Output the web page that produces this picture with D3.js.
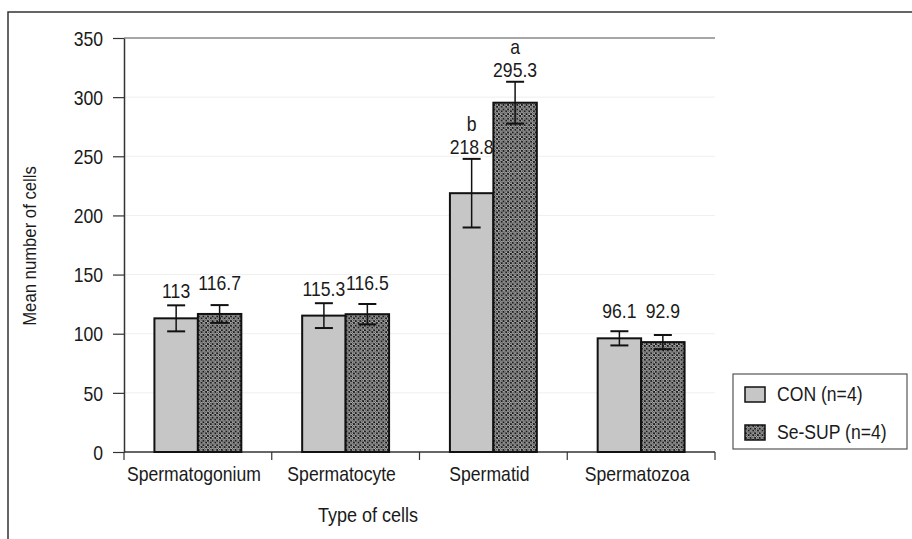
<!DOCTYPE html>
<html>
<head>
<meta charset="utf-8">
<script src="https://cdnjs.cloudflare.com/ajax/libs/d3/7.8.5/d3.min.js"></script>
<style>
  body { margin: 0; background: #fff; }
  svg text { font-family: "Liberation Sans", Arial, sans-serif; fill: #1a1a1a; }
</style>
</head>
<body>
<svg id="chart" width="912" height="539"></svg>
<script>
'use strict';

// data
var categories = ['Spermatogonium', 'Spermatocyte', 'Spermatid', 'Spermatozoa'];
var seriesNames = ['CON (n=4)', 'Se-SUP (n=4)'];
var conValues = [113, 115.3, 218.8, 96.1];
var supValues = [116.7, 116.5, 295.3, 92.9];
var conErrors = [11, 10.5, 29, 6];
var supErrors = [7.5, 8.6, 17.7, 6];
var conLetters = ['', '', 'b', ''];
var supLetters = ['', '', 'a', ''];
var yTicks = [0, 50, 100, 150, 200, 250, 300, 350];

var svg = d3.select('#chart');

var plotLeft = 124, plotRight = 715, plotTop = 38, plotBottom = 452;
var SX = 0.88; // the scanned font is a bit narrow

var x0 = d3.scaleBand().domain(categories).range([plotLeft, plotRight]).padding(0);
var x1 = d3.scaleBand().domain(seriesNames).range([0, x0.bandwidth()]).paddingInner(0).paddingOuter(0.7);
var y = d3.scaleLinear().domain([0, 350]).range([plotBottom, plotTop]);

// put a narrowed text at (x, y)
function narrowText(parent, x, y, str, size, anchor) {
  return parent.append('text')
    .attr('transform', 'translate(' + x + ',' + y + ') scale(' + SX + ',1)')
    .attr('text-anchor', anchor || 'middle')
    .style('font-size', size + 'px')
    .text(str);
}

// patterns
var defs = svg.append('defs');
var pat = defs.append('pattern')
  .attr('id', 'hatch')
  .attr('patternUnits', 'userSpaceOnUse')
  .attr('width', 4.6).attr('height', 4.6);
pat.append('rect').attr('width', 4.6).attr('height', 4.6).attr('fill', '#1a1a1a');
[[1.15, 1.15], [3.45, 3.45]].forEach(function (p) {
  pat.append('circle').attr('cx', p[0]).attr('cy', p[1]).attr('r', 1.1)
    .attr('fill', 'none').attr('stroke', '#e6e6e6').attr('stroke-width', 0.9);
});

var fills = ['#c6c6c6', 'url(#hatch)'];

// outer frame
svg.append('path')
  .attr('d', 'M8,539 L8,12 L912,12')
  .attr('fill', 'none').attr('stroke', '#333').attr('stroke-width', 1.5);

// gridlines
svg.append('g').selectAll('line')
  .data(yTicks.filter(function (d) { return d > 0; }))
  .enter().append('line')
  .attr('x1', plotLeft).attr('x2', plotRight)
  .attr('y1', function (d) { return y(d); })
  .attr('y2', function (d) { return y(d); })
  .attr('stroke', function (d) { return d === 350 ? '#8a8a8a' : '#efefef'; })
  .attr('stroke-width', function (d) { return d === 350 ? 1.5 : 1; });

// y axis
var yAxis = svg.append('g')
  .attr('transform', 'translate(' + plotLeft + ',0)')
  .call(d3.axisLeft(y).tickValues(yTicks).tickSize(11).tickPadding(10).tickSizeOuter(0));
yAxis.select('.domain').attr('stroke', '#333').attr('stroke-width', 1.5);
yAxis.selectAll('.tick line').attr('stroke', '#333').attr('stroke-width', 1.2);
yAxis.selectAll('text')
  .attr('x', -21 / SX)
  .attr('transform', 'scale(' + SX + ',1)')
  .attr('dy', '0.36em')
  .style('font-size', '20px').attr('fill', '#1a1a1a');

// x axis with ticks between the categories
var xAxis = svg.append('g')
  .attr('transform', 'translate(0,' + plotBottom + ')');
xAxis.append('line')
  .attr('x1', plotLeft).attr('x2', plotRight)
  .attr('stroke', '#333').attr('stroke-width', 1.5);
var bounds = categories.map(function (c) { return x0(c); }).concat([plotRight]);
xAxis.selectAll('.sep').data(bounds).enter().append('line')
  .attr('class', 'sep')
  .attr('x1', function (d) { return d; }).attr('x2', function (d) { return d; })
  .attr('y1', 0).attr('y2', 8)
  .attr('stroke', '#333').attr('stroke-width', 1.2);
categories.forEach(function (c) {
  narrowText(xAxis, x0(c) + x0.bandwidth() / 2 - 4, 29, c, 20);
});

// bars
var flat = [];
categories.forEach(function (c, i) {
  flat.push({ cat: c, s: seriesNames[0], v: conValues[i], e: conErrors[i], l: conLetters[i], k: 0 });
  flat.push({ cat: c, s: seriesNames[1], v: supValues[i], e: supErrors[i], l: supLetters[i], k: 1 });
});

var bw = x1.bandwidth();
var groups = svg.append('g').selectAll('g')
  .data(flat).enter().append('g')
  .attr('transform', function (d) { return 'translate(' + (x0(d.cat) + x1(d.s)) + ',0)'; });

groups.append('rect')
  .attr('x', 0)
  .attr('y', function (d) { return y(d.v); })
  .attr('width', bw)
  .attr('height', function (d) { return y(0) - y(d.v); })
  .attr('fill', function (d) { return fills[d.k]; })
  .attr('stroke', '#111').attr('stroke-width', 2);

// error bars
groups.append('line')
  .attr('x1', bw / 2).attr('x2', bw / 2)
  .attr('y1', function (d) { return y(d.v + d.e); })
  .attr('y2', function (d) { return y(d.v - d.e); })
  .attr('stroke', '#111').attr('stroke-width', 1.5);
groups.selectAll('.cap')
  .data(function (d) { return [d.v + d.e, d.v - d.e]; })
  .enter().append('line')
  .attr('class', 'cap')
  .attr('x1', bw / 2 - 9).attr('x2', bw / 2 + 9)
  .attr('y1', function (d) { return y(d); })
  .attr('y2', function (d) { return y(d); })
  .attr('stroke', '#111').attr('stroke-width', 2);

// value labels and significance letters
groups.each(function (d) {
  var g = d3.select(this);
  var base = Math.min(y(d.v) - 20 - (d.k ? 4 : 0), y(d.v + d.e) - 5);
  narrowText(g, bw / 2, base, d.v, 20);
  if (d.l) narrowText(g, bw / 2, base - 23, d.l, 20);
});

// axis titles
narrowText(svg, 0, 0, 'Mean number of cells', 19)
  .attr('transform', 'translate(36,246) rotate(-90) scale(' + SX + ',1)');
narrowText(svg, 368, 522, 'Type of cells', 20.5);

// legend
var legend = svg.append('g');
legend.append('rect')
  .attr('x', 733).attr('y', 374).attr('width', 174).attr('height', 75)
  .attr('fill', '#fff').attr('stroke', '#555').attr('stroke-width', 1.2);
var items = legend.selectAll('.item').data(seriesNames).enter().append('g')
  .attr('class', 'item')
  .attr('transform', function (d, i) { return 'translate(745,' + (387 + i * 38) + ')'; });
items.append('rect')
  .attr('width', 20).attr('height', 15)
  .attr('fill', function (d, i) { return fills[i]; })
  .attr('stroke', '#111').attr('stroke-width', 1.5);
items.each(function (d) {
  narrowText(d3.select(this), 32, 14, d, 20, 'start');
});
</script>
</body>
</html>
